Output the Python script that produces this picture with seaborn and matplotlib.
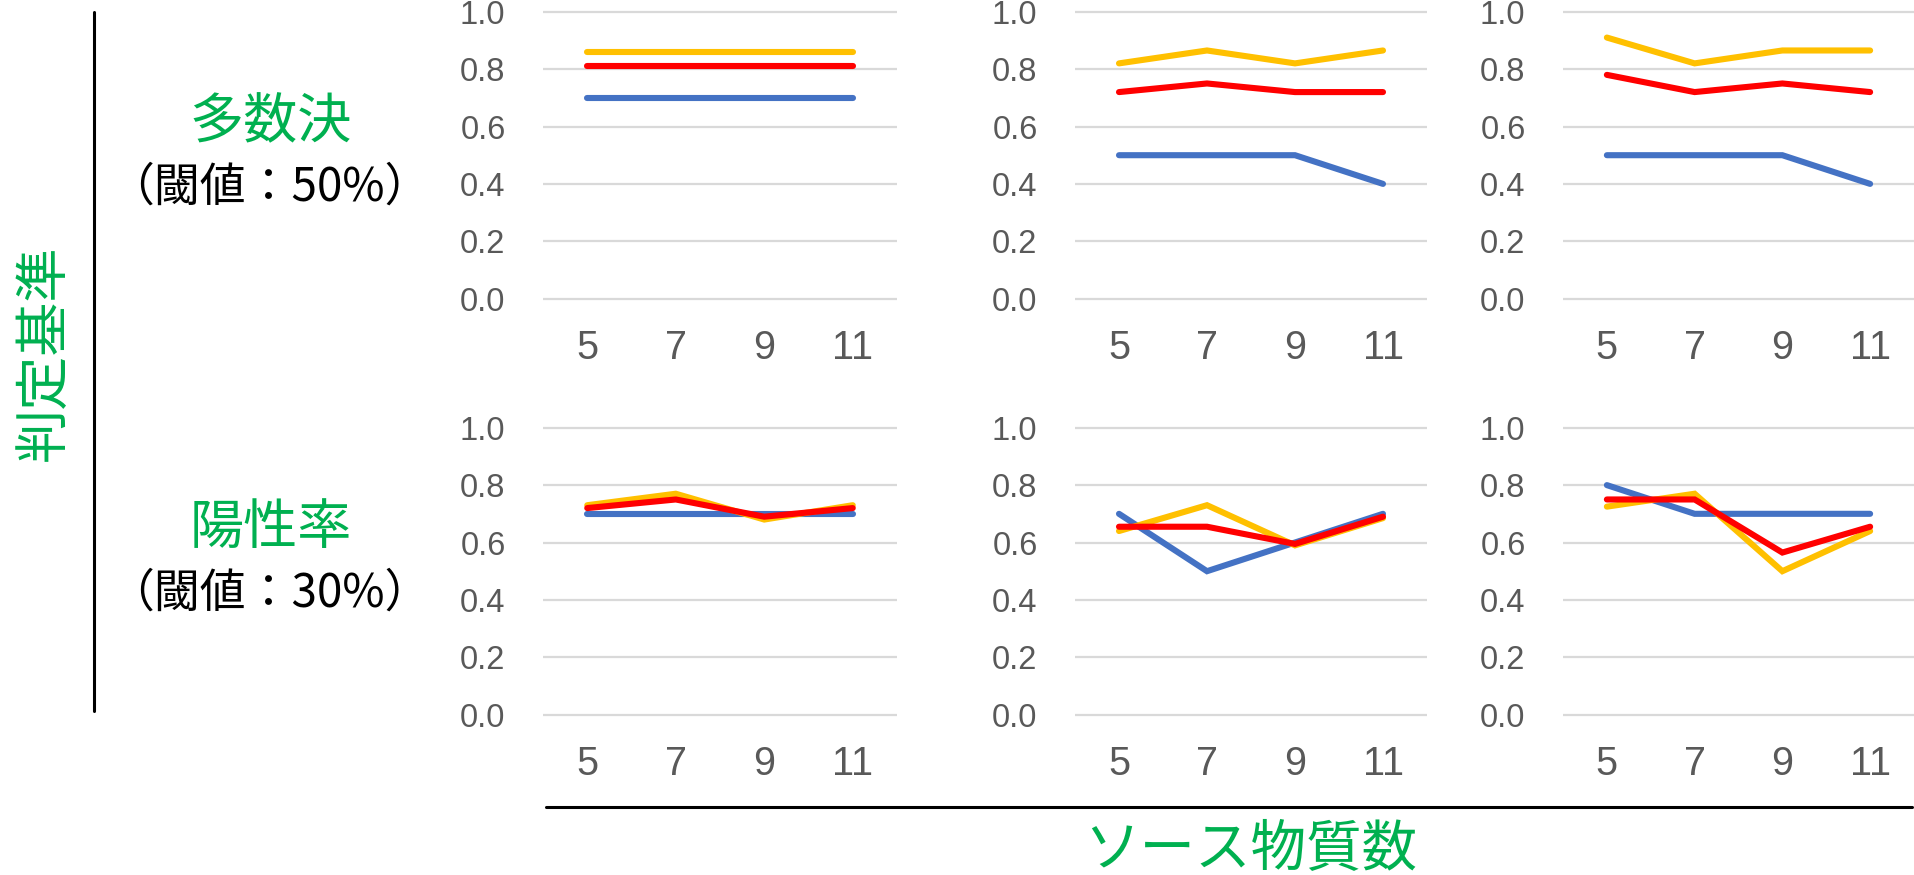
import matplotlib
matplotlib.use("Agg")
import matplotlib.pyplot as plt
import seaborn as sns
import pandas as pd
from matplotlib.lines import Line2D

# ---------------- data ----------------
source_counts = [5, 7, 9, 11]
series_names = ["series_blue", "series_yellow", "series_red"]
y_ticks = [0.0, 0.2, 0.4, 0.6, 0.8, 1.0]
y_tick_labels = ["0.0", "0.2", "0.4", "0.6", "0.8", "1.0"]

# row 1: 多数決（閾値：50%）
maj_left_blue = [0.70, 0.70, 0.70, 0.70]
maj_left_yellow = [0.86, 0.86, 0.86, 0.86]
maj_left_red = [0.81, 0.81, 0.81, 0.81]

maj_mid_blue = [0.50, 0.50, 0.50, 0.40]
maj_mid_yellow = [0.82, 0.865, 0.82, 0.865]
maj_mid_red = [0.72, 0.75, 0.72, 0.72]

maj_right_blue = [0.50, 0.50, 0.50, 0.40]
maj_right_yellow = [0.91, 0.82, 0.865, 0.865]
maj_right_red = [0.78, 0.72, 0.75, 0.72]

# row 2: 陽性率（閾値：30%）
pos_left_blue = [0.70, 0.70, 0.70, 0.70]
pos_left_yellow = [0.73, 0.77, 0.68, 0.73]
pos_left_red = [0.72, 0.75, 0.69, 0.72]

pos_mid_blue = [0.70, 0.50, 0.60, 0.70]
pos_mid_yellow = [0.64, 0.73, 0.59, 0.685]
pos_mid_red = [0.655, 0.655, 0.595, 0.69]

pos_right_blue = [0.80, 0.70, 0.70, 0.70]
pos_right_yellow = [0.725, 0.77, 0.50, 0.64]
pos_right_red = [0.75, 0.75, 0.565, 0.655]

row_labels = ["多数決", "陽性率"]
row_sublabels = ["（閾値：50%）", "（閾値：30%）"]
y_axis_title = "判定基準"
x_axis_title = "ソース物質数"

panels = [
    [(maj_left_blue, maj_left_yellow, maj_left_red),
     (maj_mid_blue, maj_mid_yellow, maj_mid_red),
     (maj_right_blue, maj_right_yellow, maj_right_red)],
    [(pos_left_blue, pos_left_yellow, pos_left_red),
     (pos_mid_blue, pos_mid_yellow, pos_mid_red),
     (pos_right_blue, pos_right_yellow, pos_right_red)],
]

# ---------------- style ----------------
sns.set_theme(style="white")
CJK = ["Noto Sans CJK JP", "DejaVu Sans"]
plt.rcParams["font.family"] = ["Liberation Sans", "DejaVu Sans"]

palette = {"series_blue": "#4472C4", "series_yellow": "#FFC000", "series_red": "#FF0000"}
green = "#00B050"
tick_grey = "#595959"

W, H = 1914, 875
fig = plt.figure(figsize=(W / 100, H / 100), dpi=100)

col_left_px = [543, 1075, 1563]
col_width_px = [354, 352, 351]
row_top_px = [6.0, 422.0]
ax_height_px = 298.4

for r in range(2):
    for c in range(3):
        l = col_left_px[c] / W
        b = 1 - (row_top_px[r] + ax_height_px) / H
        ax = fig.add_axes([l, b, col_width_px[c] / W, ax_height_px / H])
        blue, yellow, red = panels[r][c]
        df = pd.DataFrame({
            "n": source_counts * 3,
            "value": list(blue) + list(yellow) + list(red),
            "series": [series_names[0]] * 4 + [series_names[1]] * 4 + [series_names[2]] * 4,
        })
        sns.lineplot(data=df, x="n", y="value", hue="series", hue_order=series_names,
                     palette=palette, linewidth=4.4, legend=False, ax=ax,
                     solid_capstyle="round", solid_joinstyle="miter")
        ax.set_xlim(4, 12)
        ax.set_ylim(-0.02, 1.02)
        ax.set_xticks(source_counts)
        ax.set_xticklabels([str(v) for v in source_counts])
        ax.set_yticks(y_ticks)
        ax.set_yticklabels(y_tick_labels)
        ax.set_xlabel("")
        ax.set_ylabel("")
        for s in ax.spines.values():
            s.set_visible(False)
        ax.yaxis.grid(True, color="#D9D9D9", linewidth=1.6)
        ax.xaxis.grid(False)
        ax.set_axisbelow(True)
        ax.tick_params(axis="y", length=0, pad=27, labelsize=23.5, labelcolor=tick_grey)
        ax.tick_params(axis="x", length=0, pad=18, labelsize=28.5, labelcolor=tick_grey)
        ax.set_facecolor("none")

# row labels
label_y_px = [(123, 187), (528, 593)]
for r in range(2):
    fig.text(271 / W, 1 - label_y_px[r][0] / H, row_labels[r], color=green,
             fontsize=39, ha="center", va="center", family=CJK)
    fig.text(269 / W, 1 - label_y_px[r][1] / H, row_sublabels[r], color="black",
             fontsize=33, ha="center", va="center", family=CJK)

fig.text(44 / W, 1 - 353 / H, y_axis_title, color=green, fontsize=39,
         rotation=90, ha="center", va="center", family=CJK)
fig.text(1251 / W, 1 - 850 / H, x_axis_title, color=green, fontsize=40,
         ha="center", va="center", family=CJK)

# bracket lines
fig.add_artist(Line2D([94 / W, 94 / W], [1 - 12 / H, 1 - 711 / H],
                      transform=fig.transFigure, color="black", linewidth=2.2))
fig.add_artist(Line2D([546 / W, 1912 / W], [1 - 807 / H, 1 - 807 / H],
                      transform=fig.transFigure, color="black", linewidth=2.2))

fig.savefig("out.png", dpi=100, facecolor="white")
